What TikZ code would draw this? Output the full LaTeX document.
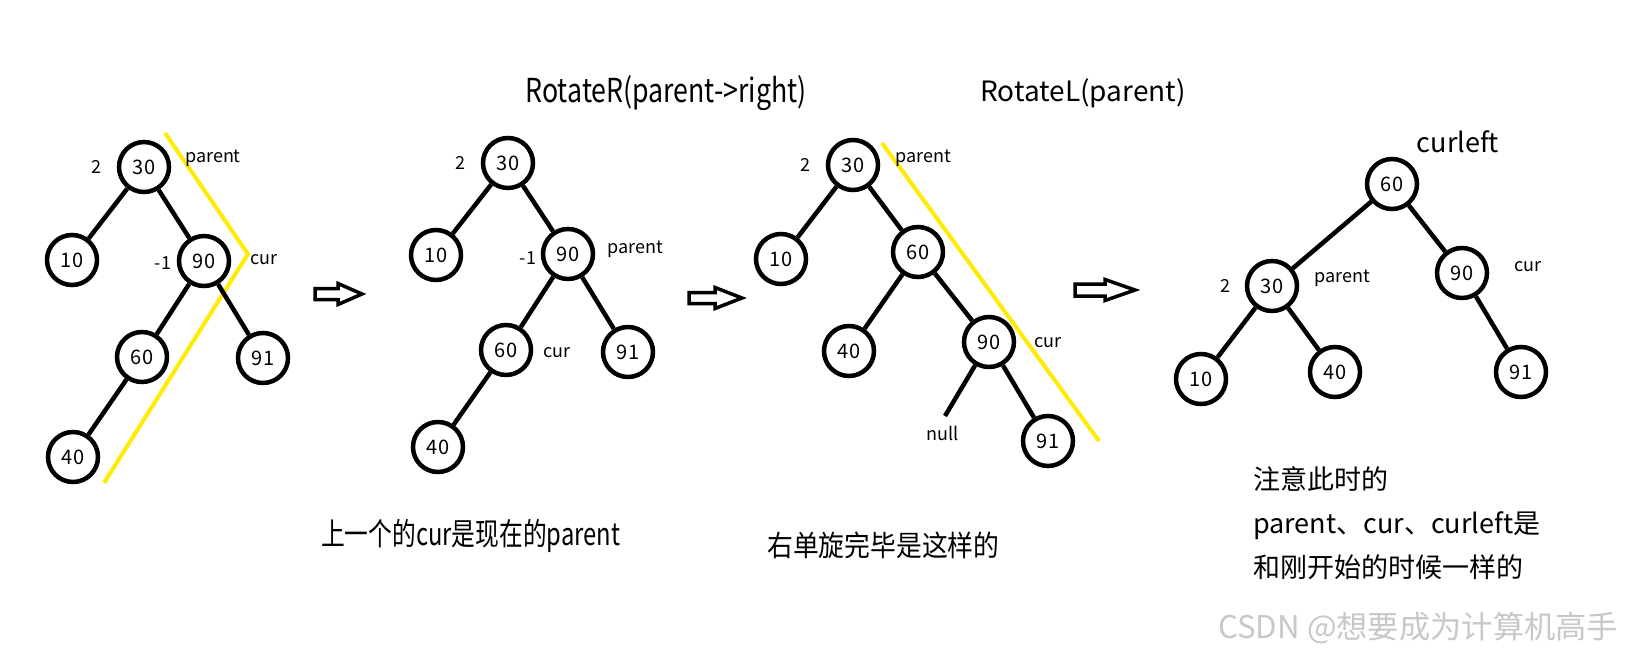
\documentclass[tikz,border=0pt]{standalone}
\usepackage{fontspec}
\setmainfont{Noto Sans CJK SC}
\usepackage{graphicx}
\definecolor{hiyellow}{RGB}{255,236,0}
\definecolor{wmgray}{RGB}{200,200,200}
\tikzset{
  tn/.style={circle, draw, line width=4.5pt, minimum size=50pt, inner sep=0pt, font=\fontsize{20}{20}\selectfont},
  edge/.style={line width=4.5pt},
  lbl/.style={font=\fontsize{18}{18}\selectfont, inner sep=0pt},
  hl/.style={draw=hiyellow, line width=4pt},
  blockarr/.style={draw, line width=3.5pt, fill=white, line join=miter},
  bigtxt/.style={inner sep=0pt, anchor=base}
}
\begin{document}
\begin{tikzpicture}[x=1pt,y=-1pt]
\useasboundingbox[fill=white] (0,0) rectangle (1626,656);

% ---------- Tree 1 ----------
\draw[hl] (165,133) -- (248,254) -- (104,483);
\node[tn] (a30) at (144,167) {30};
\node[tn] (a10) at (72,260) {10};
\node[tn] (a90) at (204,261) {90};
\node[tn] (a60) at (142,357) {60};
\node[tn] (a91) at (263,358) {91};
\node[tn] (a40) at (73,457) {40};
\draw[edge] (a30) -- (a10);
\draw[edge] (a30) -- (a90);
\draw[edge] (a90) -- (a60);
\draw[edge] (a90) -- (a91);
\draw[edge] (a60) -- (a40);
\node[lbl] (a2) at (96,167) {2};
\node[lbl] (am1) at (163,263) {-1};
\node[lbl] (apar) at (213,158) {parent};
\node[lbl] (acur) at (264,260) {cur};

% arrow 1
\draw[blockarr] (315,288.5) -- (338,288.5) -- (338,283.5) -- (362,294) -- (338,304.5) -- (338,299.5) -- (315,299.5) -- cycle;

% ---------- Tree 2 ----------
\node[bigtxt] (t1) at (666,102) {\scalebox{0.81}[1]{\fontsize{33}{33}\selectfont RotateR(parent->right)}};
\node[tn] (b30) at (508,163) {30};
\node[tn] (b10) at (436,255) {10};
\node[tn] (b90) at (568,254) {90};
\node[tn] (b60) at (506,350) {60};
\node[tn] (b91) at (628,352) {91};
\node[tn] (b40) at (438,447) {40};
\draw[edge] (b30) -- (b10);
\draw[edge] (b30) -- (b90);
\draw[edge] (b90) -- (b60);
\draw[edge] (b90) -- (b91);
\draw[edge] (b60) -- (b40);
\node[lbl] (b2) at (460,163) {2};
\node[lbl] (bm1) at (528,258) {-1};
\node[lbl] (bpar) at (635,249) {parent};
\node[lbl] (bcur) at (557,353) {cur};
\node[inner sep=0pt, anchor=base west] (c1) at (321,545) {\scalebox{0.766}[1]{\fontsize{31}{31}\selectfont 上一个的cur是现在的parent}};

% arrow 2
\draw[blockarr] (689,292.5) -- (715,292.5) -- (715,287.5) -- (742,298) -- (715,308.5) -- (715,303.5) -- (689,303.5) -- cycle;

% ---------- Tree 3 ----------
\node[bigtxt] (t2) at (1083,101) {\fontsize{28}{28}\selectfont RotateL(parent)};
\draw[hl] (882,143) -- (1099,441);
\node[tn] (c30) at (853,165) {30};
\node[tn] (c10) at (781,259) {10};
\node[tn] (c60) at (918,252) {60};
\node[tn] (c40) at (849,351) {40};
\node[tn] (c90) at (989,342) {90};
\node[tn] (c91) at (1048,441) {91};
\coordinate (cnull) at (945,416);
\draw[edge] (c30) -- (c10);
\draw[edge] (c30) -- (c60);
\draw[edge] (c60) -- (c40);
\draw[edge] (c60) -- (c90);
\draw[edge] (c90) -- (c91);
\draw[edge] (c90) -- (cnull);
\node[lbl] (cnl) at (943,433) {null};
\node[lbl] (c2) at (805,165) {2};
\node[lbl] (cpar) at (923,158) {parent};
\node[lbl] (ccur) at (1048,343) {cur};
\node[inner sep=0pt, anchor=base west] (c2t) at (767,556) {\scalebox{0.89}[1]{\fontsize{29}{29}\selectfont 右单旋完毕是这样的}};

% arrow 3
\draw[blockarr] (1075,284) -- (1105,284) -- (1105,279.5) -- (1135,290) -- (1105,300.5) -- (1105,296) -- (1075,296) -- cycle;

% ---------- Tree 4 ----------
\node[tn] (d60) at (1392,184) {60};
\node[tn] (d30) at (1272,286) {30};
\node[tn] (d90) at (1462,273) {90};
\node[tn] (d10) at (1201,379) {10};
\node[tn] (d40) at (1335,372) {40};
\node[tn] (d91) at (1521,372) {91};
\draw[edge] (d60) -- (d30);
\draw[edge] (d60) -- (d90);
\draw[edge] (d30) -- (d10);
\draw[edge] (d30) -- (d40);
\draw[edge] (d90) -- (d91);
\node[lbl, font=\fontsize{27}{27}\selectfont] (dcl) at (1458,142) {curleft};
\node[lbl] (d2) at (1225,286) {2};
\node[lbl] (dpar) at (1342,278) {parent};
\node[lbl] (dcur) at (1528,267) {cur};

\node[inner sep=0pt, anchor=north west, align=left, font=\fontsize{27}{44}\selectfont] (note) at (1253,466.5)
  {注意此时的\\parent、cur、curleft是\\和刚开始的时候一样的};

\node[inner sep=0pt, anchor=base west, text=wmgray] (wm) at (1218,638) {\resizebox{400pt}{!}{\fontsize{32}{32}\selectfont CSDN @想要成为计算机高手}};
\end{tikzpicture}
\end{document}
